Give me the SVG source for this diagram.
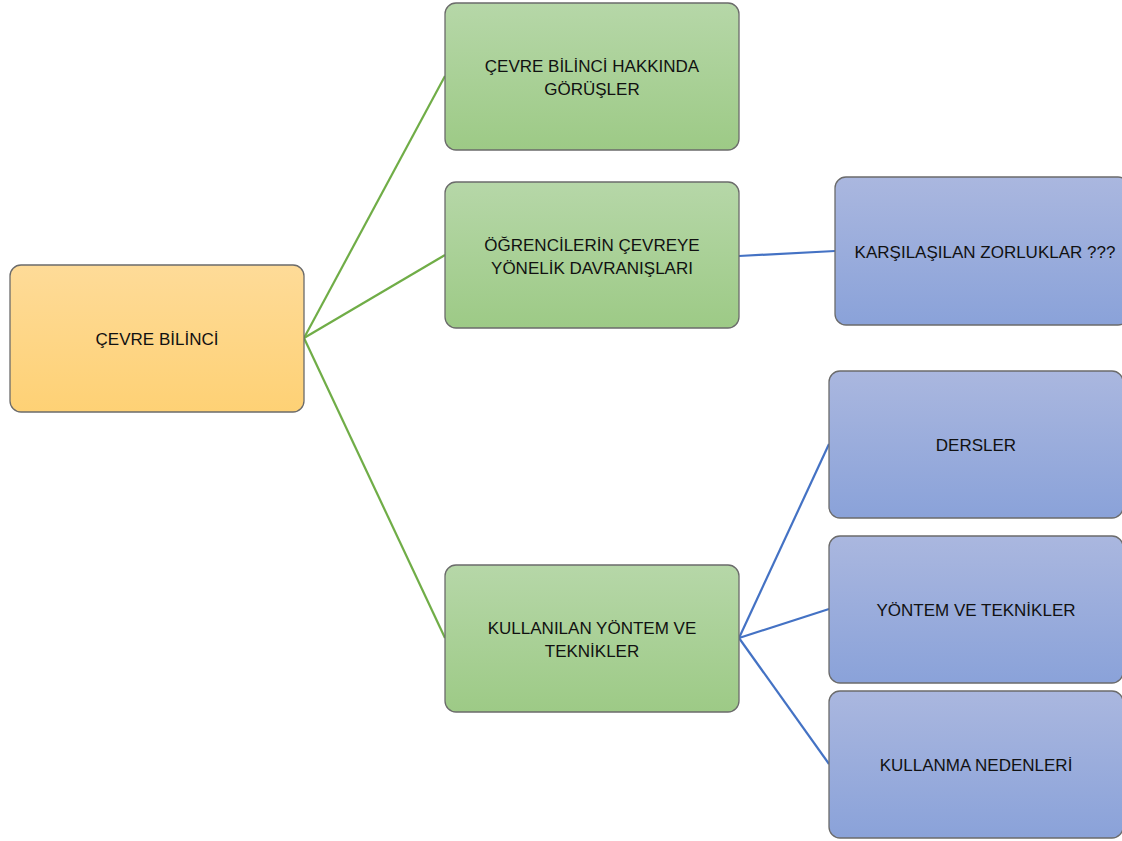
<svg xmlns="http://www.w3.org/2000/svg" width="1122" height="841" viewBox="0 0 1122 841">
<defs>
<linearGradient id="gO" x1="0" y1="0" x2="0" y2="1"><stop offset="0" stop-color="#fedb98"/><stop offset="1" stop-color="#fed175"/></linearGradient>
<linearGradient id="gG" x1="0" y1="0" x2="0" y2="1"><stop offset="0" stop-color="#b6d7a8"/><stop offset="1" stop-color="#9dca86"/></linearGradient>
<linearGradient id="gB" x1="0" y1="0" x2="0" y2="1"><stop offset="0" stop-color="#aab7df"/><stop offset="1" stop-color="#8aa2d9"/></linearGradient>
</defs>
<style>
rect{stroke:#6b6b6b;stroke-width:1.3}
.o{fill:url(#gO)}
.g{fill:url(#gG)}
.b{fill:url(#gB)}
text{font-family:"Liberation Sans",Arial,sans-serif;font-size:17px;fill:#111;text-anchor:middle}
.cg{stroke:#70ad47;stroke-width:2.2;fill:none}
.cb{stroke:#4472c4;stroke-width:2.2;fill:none}
</style>
<rect width="1122" height="841" fill="#fff" style="stroke:none"/>
<g id="connectors">
<line class="cg" x1="304" y1="338" x2="445" y2="76"/>
<line class="cg" x1="304" y1="338" x2="445" y2="255"/>
<line class="cg" x1="304" y1="338" x2="445" y2="638"/>
<line class="cb" x1="739" y1="256" x2="835" y2="251"/>
<line class="cb" x1="739" y1="638" x2="829" y2="444"/>
<line class="cb" x1="739" y1="638" x2="829" y2="609"/>
<line class="cb" x1="739" y1="638" x2="829" y2="764"/>
</g>
<g id="root"><rect class="o" x="10" y="265" width="294" height="147" rx="11"/><text x="157" y="345">ÇEVRE BİLİNCİ</text></g>
<g id="n1"><rect class="g" x="445" y="3" width="294" height="147" rx="11"/><text x="592" y="72">ÇEVRE BİLİNCİ HAKKINDA</text><text x="592" y="95">GÖRÜŞLER</text></g>
<g id="n2"><rect class="g" x="445" y="182" width="294" height="146" rx="11"/><text x="592" y="251">ÖĞRENCİLERİN ÇEVREYE</text><text x="592" y="274">YÖNELİK DAVRANIŞLARI</text></g>
<g id="n3"><rect class="g" x="445" y="565" width="294" height="147" rx="11"/><text x="592" y="634">KULLANILAN YÖNTEM VE</text><text x="592" y="657">TEKNİKLER</text></g>
<g id="b1"><rect class="b" x="835" y="177" width="294" height="148" rx="11"/><text x="985" y="258">KARŞILAŞILAN ZORLUKLAR ???</text></g>
<g id="b2"><rect class="b" x="829" y="371" width="294" height="147" rx="11"/><text x="976" y="451">DERSLER</text></g>
<g id="b3"><rect class="b" x="829" y="536" width="294" height="147" rx="11"/><text x="976" y="616">YÖNTEM VE TEKNİKLER</text></g>
<g id="b4"><rect class="b" x="829" y="691" width="294" height="147" rx="11"/><text x="976" y="771">KULLANMA NEDENLERİ</text></g>
</svg>
